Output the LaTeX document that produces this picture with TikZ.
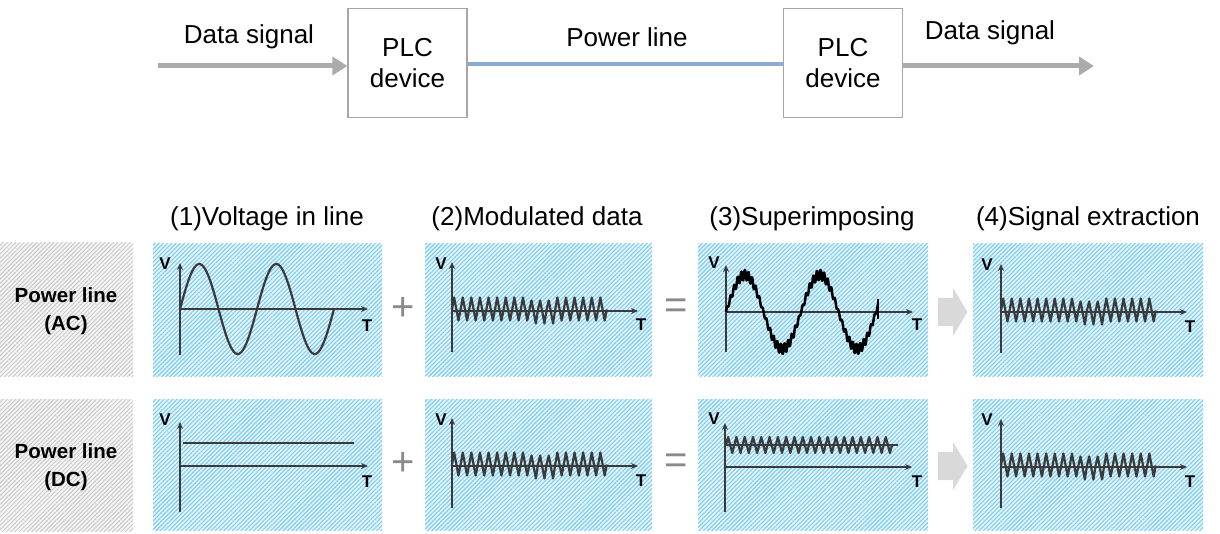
\documentclass[tikz,border=0pt]{standalone}
\usepackage{fontspec}
\setmainfont{Liberation Sans}
\usetikzlibrary{arrows.meta,patterns.meta}
\definecolor{hatchB}{HTML}{7FCDF0}
\definecolor{baseB}{HTML}{E6F5FC}
\definecolor{hatchG}{HTML}{C8C8C8}
\definecolor{baseG}{HTML}{F6F6F6}
\definecolor{arrowG}{HTML}{ABABAB}
\definecolor{lineB}{HTML}{8EAADB}
\definecolor{boxG}{HTML}{A6A6A6}
\definecolor{waveC}{HTML}{3A3A3A}
\definecolor{opG}{HTML}{8A8A8A}
\definecolor{blockG}{HTML}{D9D9D9}
\tikzset{
  bluepanel/.style={fill=baseB, postaction={pattern={Lines[angle=45,distance=3pt,line width=1.1pt]}, pattern color=hatchB}},
  graypanel/.style={fill=baseG, postaction={pattern={Lines[angle=45,distance=3pt,line width=1.0pt]}, pattern color=hatchG}},
  axis/.style={draw=waveC, line width=2.2pt, -{Stealth[length=7pt,width=6pt]}},
  axisplain/.style={draw=waveC, line width=2.2pt},
  wave/.style={draw=waveC, line width=2.2pt, line join=round},
  bigtxt/.style={font=\fontsize{26}{31}\selectfont, inner sep=0pt},
  axlbl/.style={font=\fontsize{17}{20}\selectfont\bfseries, inner sep=0pt},
  sidelbl/.style={font=\fontsize{20.5}{28}\selectfont\bfseries, align=center, inner sep=0pt},
  plcbox/.style={draw=boxG, line width=1.3pt, fill=white, minimum width=119pt, minimum height=109pt, align=center, font=\fontsize{26}{31}\selectfont},
  flowarrow/.style={draw=arrowG, line width=5pt, -{Triangle[length=15pt,width=18pt]}},
  opsym/.style={text=opG, inner sep=0pt, font=\fontsize{40}{40}\selectfont},
  block/.style={fill=blockG, draw=none},
}
\newcommand\modwave[2]{%
  \draw[wave] (#1,#2) \foreach \d in {0,0,0,0,0,0,0,0,0,3,3,3,0,0,0,0,0,0} { -- ++(2.15,-12+\d) -- ++(4.3,23) -- ++(2.15,-11-\d) };
}
\newcommand\vtaxes[8]{% ox oy ybottom ytop xright name
  \draw[axisplain] (#1,#3) -- (#1,#2);
  \draw[axis] (#1,#2) -- (#1,#4);
  \draw[axis] (#1,#2) -- (#5,#2);
  \node[axlbl] (#6V) at (#7) {V};
  \node[axlbl] (#6T) at (#8) {T};
}
\begin{document}
\begin{tikzpicture}[x=1pt,y=-1pt]
\useasboundingbox (0,0) rectangle (1220,534);
% ---------- top diagram ----------
\node[plcbox] (plcA) at (407.5,63) {PLC\\device};
\node[plcbox] (plcB) at (843,63) {PLC\\device};
\coordinate (srcA) at (158,66);
\coordinate (dstB) at (1094,66);
\draw[flowarrow] (srcA) -- (srcA -| plcA.west);
\draw[draw=lineB, line width=4pt] (plcA.east |- 0,64) -- (plcB.west |- 0,64);
\draw[flowarrow] (plcB.east |- dstB) -- (dstB);
\node[bigtxt] (dsA) at (249,37) {Data signal};
\node[bigtxt] (pl) at (627,37) {Power line};
\node[bigtxt] (dsB) at (990,33) {Data signal};
% ---------- titles ----------
\node[bigtxt] (t1) at (267,219) {(1)Voltage in line};
\node[bigtxt] (t2) at (537,219) {(2)Modulated data};
\node[bigtxt] (t3) at (812,219) {(3)Superimposing};
\node[bigtxt] (t4) at (1088,219) {(4)Signal extraction};
% ---------- panels ----------
\path[graypanel] (0,243) rectangle (133,376);
\path[graypanel] (0,399) rectangle (133,531);
\foreach \a/\b in {153/382,425/652,698/928,973/1203}{
  \path[bluepanel] (\a,244) rectangle (\b,376);
  \path[bluepanel] (\a,399) rectangle (\b,530);
}
\node[sidelbl] (sAC) at (66,311) {Power line\\(AC)};
\node[sidelbl] (sDC) at (66,467) {Power line\\(DC)};
% ---------- operators ----------
\node[opsym] (plus1) at (403,309) {+};
\node[opsym] (plus2) at (403,464) {+};
\node[opsym] (eq1) at (676,309) {=};
\node[opsym] (eq2) at (676,464) {=};
\foreach \y/\n in {312/ar1,466/ar2}{
  \path[block] (938,\y-14) -- (953,\y-14) -- (953,\y-24) -- (967.5,\y) -- (953,\y+24) -- (953,\y+14) -- (938,\y+14) -- cycle;
}
% ---------- row 1 ----------
\vtaxes{180}{309}{355}{263}{368}{aA}{165,264}{367,326}
\draw[wave] plot[domain=0:154, samples=160] ({180+\x},{309-45*sin(\x*4.6753)});
\vtaxes{452}{311}{352}{262}{638}{aB}{441,264}{641,325}
\modwave{452}{309.5}
\vtaxes{726}{312}{352}{265}{913}{aC}{714,263}{917,325}
\draw[draw=black, line width=2.5pt, line join=round] plot[domain=0:152, samples=900] ({726+\x},{312-37*sin(\x*4.8)-(1.5+3.5*abs(sin(\x*4.8)))*sin(\x*100)});
\draw[draw=black, line width=1.7pt] (878,299) -- (878,319);
\vtaxes{1001}{312}{353}{264}{1187}{aD}{987,265}{1190,327}
\modwave{1001}{310.5}
% ---------- row 2 ----------
\vtaxes{180}{466}{512}{422}{368}{bA}{165,420}{367,482}
\draw[wave] (183,443) -- (354,443);
\vtaxes{452}{466}{508}{418}{638}{bB}{441,420}{641,481}
\modwave{452}{464.5}
\vtaxes{725}{467}{512}{423}{912}{bC}{714,419}{917,482}
\draw[wave] (726,445) -- (898,445);
\draw[wave] (726,445) \foreach \i in {1,...,20} { -- ++(2.07,-8) -- ++(4.15,16) -- ++(2.08,-8) };
\vtaxes{1001}{467}{508}{419}{1187}{bD}{987,420}{1190,482}
\modwave{1001}{465.5}
\end{tikzpicture}
\end{document}
